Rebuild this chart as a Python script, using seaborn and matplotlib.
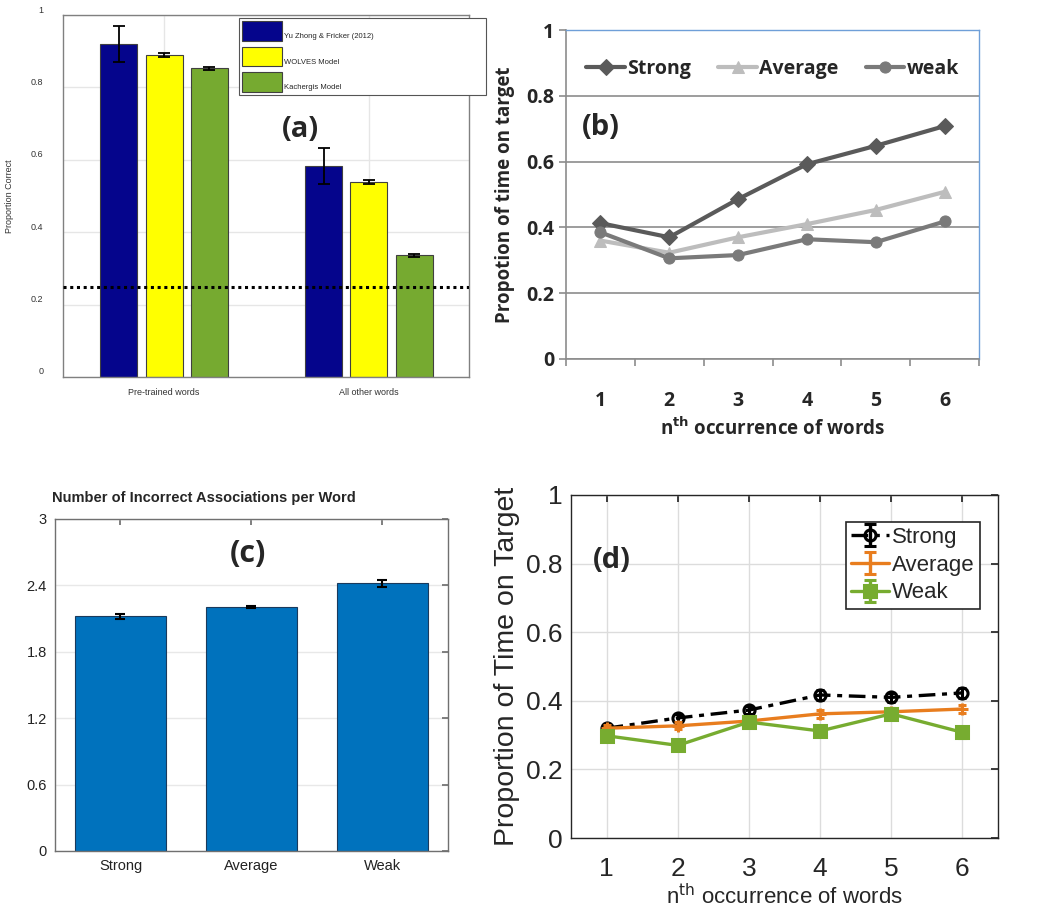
import numpy as np
import pandas as pd
import seaborn as sns
import matplotlib.pyplot as plt
import matplotlib.transforms as mtransforms

# ---- panel (a) data
a_groups = ["Pre-trained words", "All other words"]
a_sources = ["Yu Zhong & Fricker (2012)", "WOLVES Model", "Kachergis Model"]
a_means = {
    "Yu Zhong & Fricker (2012)": [0.92, 0.583],
    "WOLVES Model": [0.89, 0.538],
    "Kachergis Model": [0.853, 0.336],
}
a_errs = {
    "Yu Zhong & Fricker (2012)": [0.05, 0.05],
    "WOLVES Model": [0.006, 0.005],
    "Kachergis Model": [0.004, 0.005],
}
a_colors = ["#05058c", "#ffff00", "#76aa30"]
a_chance = 0.25

# ---- panel (b) data
occurrence = [1, 2, 3, 4, 5, 6]
b_strong = [0.413, 0.370, 0.486, 0.592, 0.648, 0.708]
b_average = [0.360, 0.323, 0.370, 0.410, 0.453, 0.508]
b_weak = [0.385, 0.306, 0.316, 0.364, 0.355, 0.418]

# ---- panel (c) data
c_conditions = ["Strong", "Average", "Weak"]
c_means = [2.12, 2.205, 2.42]
c_errs = [0.02, 0.01, 0.03]

# ---- panel (d) data
d_strong = [0.320, 0.350, 0.373, 0.417, 0.410, 0.423]
d_average = [0.320, 0.327, 0.341, 0.362, 0.368, 0.376]
d_weak = [0.298, 0.270, 0.338, 0.312, 0.362, 0.308]
d_strong_err = [0.012, 0.012, 0.012, 0.014, 0.014, 0.014]
d_average_err = [0.010, 0.010, 0.010, 0.012, 0.012, 0.012]
d_weak_err = [0.012, 0.014, 0.014, 0.014, 0.016, 0.016]

sns.set_theme(style="white")
plt.rcParams['font.family'] = ['Liberation Sans', 'DejaVu Sans']

W, H = 1050, 908
fig = plt.figure(figsize=(W / 100, H / 100), dpi=100)


def px_axes(left, top, right, bottom):
    return fig.add_axes([left / W, 1 - bottom / H, (right - left) / W, (bottom - top) / H])


def matlab_box(ax, color="#808080"):
    for s in ax.spines.values():
        s.set_visible(True)
        s.set_color(color)
        s.set_linewidth(1.0)
    ax.tick_params(direction="in", top=True, right=True, length=4, color=color)


# ================= (a)
ax = px_axes(63, 15, 469, 377)
rows = []
for s in a_sources:
    for g, m, e in zip(a_groups, a_means[s], a_errs[s]):
        rows.append({"group": g, "source": s, "value": m, "err": e})
dfa = pd.DataFrame(rows)
sns.barplot(data=dfa, x="group", y="value", hue="source", palette=a_colors, saturation=1,
            width=0.66, gap=0.18, errorbar=None, edgecolor="#404040", linewidth=0.8,
            ax=ax, zorder=2)
# error bars from the drawn bars
for cont, s in zip(ax.containers, a_sources):
    xs = [p.get_x() + p.get_width() / 2 for p in cont.patches]
    ax.errorbar(xs, a_means[s], yerr=a_errs[s], fmt="none", ecolor="black",
                elinewidth=1.3, capsize=4, capthick=1.3, zorder=3)
ax.axhline(a_chance, color="black", linestyle=(0, (1, 1.2)), linewidth=2.2, zorder=4)
ax.set_xlim(-0.493, 1.488)
ax.set_ylim(0, 1)
ax.set_yticks([0, 0.2, 0.4, 0.6, 0.8, 1])
ax.set_yticklabels(["0", "0.2", "0.4", "0.6", "0.8", "1"])
ax.grid(True, color="#e6e6e6", linewidth=1, zorder=0)
ax.set_axisbelow(True)
matlab_box(ax)
ax.tick_params(labelsize=6.5, labelcolor="#333333", length=0, pad=14)
for lbl in ax.get_yticklabels():
    lbl.set_transform(lbl.get_transform() + mtransforms.ScaledTranslation(0, 6 / 100, fig.dpi_scale_trans))
for lbl in ax.get_xticklabels():
    lbl.set_transform(lbl.get_transform() + mtransforms.ScaledTranslation(-47 / 100, 0, fig.dpi_scale_trans))
ax.tick_params(axis="x", pad=8)
ax.set_xlabel("")
ax.set_ylabel("Proportion Correct", fontsize=6.5, color="#333333", labelpad=12)
leg = ax.legend(loc="upper left", bbox_to_anchor=(0.424, 0.779, 0.628, 0.224), mode="expand",
                fontsize=5.5, handlelength=5.2, handleheight=3.6, labelspacing=0.75,
                borderpad=0.45, handletextpad=0.3, frameon=True, fancybox=False,
                edgecolor="#555555", framealpha=1)
leg.get_frame().set_linewidth(0.8)
for t in leg.get_texts():
    t.set_va("top")
ax.text(0.584, 0.685, "(a)", transform=ax.transAxes, fontsize=21, fontweight="bold",
        family=["Open Sans", "DejaVu Sans"], ha="center", va="center")

# ================= (b)
bfont = ["Open Sans", "DejaVu Sans"]
ax = px_axes(566, 30, 979, 359)
sns.lineplot(x=occurrence, y=b_strong, ax=ax, color="#5a5a5a", marker="D", markersize=8,
             linewidth=3, markeredgecolor="#5a5a5a", label="Strong")
sns.lineplot(x=occurrence, y=b_average, ax=ax, color="#bdbdbd", marker="^", markersize=8,
             linewidth=3, markeredgecolor="#bdbdbd", label="Average")
sns.lineplot(x=occurrence, y=b_weak, ax=ax, color="#7a7a7a", marker="o", markersize=8,
             linewidth=3, markeredgecolor="#7a7a7a", label="weak")
ax.set_xlim(0.5, 6.5)
ax.set_ylim(0, 1)
ax.set_yticks([0, 0.2, 0.4, 0.6, 0.8, 1])
ax.set_yticklabels(["0", "0.2", "0.4", "0.6", "0.8", "1"])
ax.set_xticks(occurrence)
ax.set_xticks(np.arange(0.5, 7, 1), minor=True)
ax.grid(True, axis="y", color="#8c8c8c", linewidth=1.2)
ax.set_axisbelow(True)
for side in ["top", "right"]:
    ax.spines[side].set_color("#6f9fd8")
    ax.spines[side].set_linewidth(1.0)
for side in ["left", "bottom"]:
    ax.spines[side].set_color("#8c8c8c")
    ax.spines[side].set_linewidth(1.2)
ax.tick_params(axis="y", which="major", left=True, length=5, color="#8c8c8c", width=1.2)
ax.tick_params(axis="x", which="major", bottom=False, pad=17)
ax.tick_params(axis="x", which="minor", bottom=True, length=5, color="#8c8c8c", width=1.2)
for lbl in ax.get_xticklabels() + ax.get_yticklabels():
    lbl.set_fontweight("bold")
    lbl.set_fontsize(14)
    lbl.set_family(bfont)
ax.set_ylabel("Propotion of time on target", fontsize=13.5, fontweight="bold",
              family=bfont, labelpad=8)
ax.set_xlabel("n$^{\\mathbf{th}}$ occurrence of words", fontsize=13.5, fontweight="bold",
              family=bfont, labelpad=5)
leg = ax.legend(loc="upper center", bbox_to_anchor=(0.5, 0.965), ncol=3, frameon=False,
                prop={"family": bfont, "weight": "bold", "size": 14}, handlelength=2.0,
                handletextpad=0.1, columnspacing=1.4)
ax.text(0.085, 0.705, "(b)", transform=ax.transAxes, fontsize=21, fontweight="bold",
        family=bfont, ha="center", va="center")

# ================= (c)
ax = px_axes(55, 519, 448, 851)
dfc = pd.DataFrame({"cond": c_conditions, "val": c_means})
sns.barplot(data=dfc, x="cond", y="val", color="#0072bd", saturation=1, width=0.7,
            errorbar=None, edgecolor="#1a3a5c", linewidth=0.8, ax=ax)
xs = [p.get_x() + p.get_width() / 2 for p in ax.patches]
ax.errorbar(xs, c_means, yerr=c_errs, fmt="none", ecolor="black", elinewidth=1.5,
            capsize=3.5, capthick=1.5, zorder=3)
ax.set_xlim(-0.5, 2.5)
ax.set_ylim(0, 3)
ax.set_yticks([0, 0.6, 1.2, 1.8, 2.4, 3])
ax.set_yticklabels(["0", "0.6", "1.2", "1.8", "2.4", "3"])
ax.grid(True, axis="y", color="#e8e8e8", linewidth=1)
ax.set_axisbelow(True)
matlab_box(ax, "#707070")
ax.tick_params(labelsize=10.5, labelcolor="#222222", pad=6)
ax.set_xlabel("")
ax.set_ylabel("")
ax.set_title("Number of Incorrect Associations per Word", fontsize=10.5, fontweight="bold",
             loc="left", x=-0.008, pad=12)
ax.text(0.49, 0.895, "(c)", transform=ax.transAxes, fontsize=22, fontweight="bold",
        family=bfont, ha="center", va="center")

# ================= (d)
ax = px_axes(571, 495, 998, 838)
d_series = [("Strong", d_strong, d_strong_err, "black", "o", (0, (5, 2, 1.5, 2))),
            ("Average", d_average, d_average_err, "#e87d1e", "+", "-"),
            ("Weak", d_weak, d_weak_err, "#77ac30", "s", "-")]
handles = []
for name, vals, errs, col, mk, ls in d_series:
    sns.lineplot(x=occurrence, y=vals, ax=ax, color=col, linewidth=2.4, linestyle=ls,
                 marker=mk, markersize=8, markeredgewidth=2.2, markeredgecolor=col,
                 markerfacecolor="none" if mk == "o" else col, legend=False)
    ax.errorbar(occurrence, vals, yerr=errs, fmt="none", ecolor=col, elinewidth=2.2,
                capsize=3, capthick=2.2)
    h = ax.errorbar([np.nan], [np.nan], yerr=[1], color=col, linestyle=ls, linewidth=2.4,
                    marker=mk, markersize=8, markeredgewidth=2.2,
                    markerfacecolor="none" if mk == "o" else col, capsize=4, capthick=2.2,
                    label=name)
    handles.append(h)
ax.set_xlim(0.5, 6.5)
ax.set_ylim(0, 1)
ax.set_xticks(occurrence)
ax.set_yticks([0, 0.2, 0.4, 0.6, 0.8, 1])
ax.set_yticklabels(["0", "0.2", "0.4", "0.6", "0.8", "1"])
ax.grid(True, color="#dcdcdc", linewidth=1)
ax.set_axisbelow(True)
matlab_box(ax, "#262626")
ax.tick_params(labelsize=19, labelcolor="#262626", pad=6, length=5)
ax.tick_params(axis="x", pad=14)
ax.set_ylabel("Proportion of Time on Target", fontsize=20.5, color="#262626", labelpad=4)
ax.set_xlabel("n$^{\\mathrm{th}}$ occurrence of words", fontsize=16, color="#262626",
              labelpad=2)
leg = ax.legend(handles=handles, loc="upper right", bbox_to_anchor=(0.985, 0.955),
                fontsize=16, frameon=True, fancybox=False, edgecolor="#262626",
                framealpha=1, handlelength=1.7, handletextpad=0.15, borderpad=0.25,
                labelspacing=0.3)
leg.get_frame().set_linewidth(1.2)
ax.text(0.096, 0.81, "(d)", transform=ax.transAxes, fontsize=21, fontweight="bold",
        family=bfont, ha="center", va="center")

fig.savefig("out.png", dpi=100)
